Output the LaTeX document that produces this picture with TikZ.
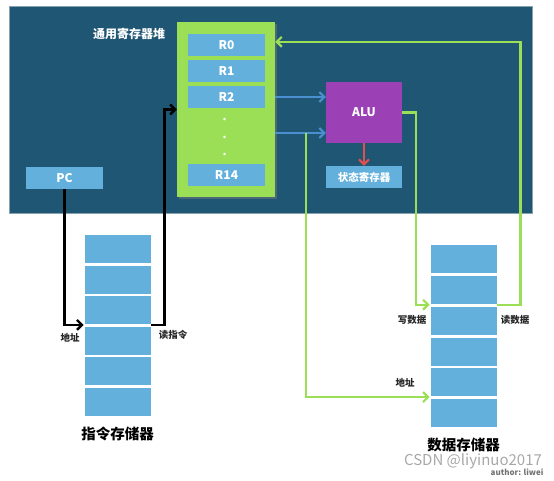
\documentclass[tikz,border=0pt]{standalone}
\usepackage{fontspec}
\setmainfont{Noto Sans CJK SC}
\usetikzlibrary{arrows.meta,positioning,shadows}

\definecolor{panelblue}{HTML}{1F5673}
\definecolor{cellblue}{HTML}{63B0DC}
\definecolor{rfgreen}{HTML}{9ADF55}
\definecolor{alupurple}{HTML}{9B40B5}
\definecolor{busblue}{HTML}{4A90D0}
\definecolor{flagred}{HTML}{E0504E}

\begin{document}
\begin{tikzpicture}[x=1pt,y=-1pt,
    tip/.style={-{Straight Barb[length=5pt,width=10pt]}},
    ctrlline/.style={tip, line width=2.4pt, black},
    dataline/.style={tip, line width=2.2pt, rfgreen},
    busline/.style={tip, line width=2pt, busblue},
    flagline/.style={tip, line width=2pt, flagred},
    lbl/.style={font=\bfseries\fontsize{9.5}{11}\selectfont, text=black!85, inner sep=0pt},
    memtitle/.style={font=\bfseries\fontsize{14.5}{17}\selectfont, inner sep=0pt}]

  \useasboundingbox (0,0) rectangle (554,481);
  \fill[panelblue, draw=panelblue!55!white, line width=.5pt] (9,6) rectangle (532,213);

  \node[fill=rfgreen, minimum width=98pt, minimum height=175pt,
        drop shadow={opacity=.45, shadow xshift=2pt, shadow yshift=-2pt}] (regfile) at (226,109.5) {};
  \node[text=white, font=\bfseries\fontsize{12}{14}\selectfont] (rftitle) at (129,34) {通用寄存器堆};

  \begin{scope}[every node/.style={fill=cellblue, text=white, inner sep=0pt,
      font=\bfseries\fontsize{12}{14}\selectfont, minimum width=77pt, minimum height=22pt}]
    \node (r0)  at (226.5,45)  {R0};
    \node (r1)  at (226.5,71)  {R1};
    \node (r2)  at (226.5,97)  {R2};
    \node (r14) at (226.5,175) {R14};
    \node (pc)  at (64.5,178)  {PC};
  \end{scope}
  \foreach \y in {119,137,154}
    \fill[white] (224.5,\y) circle (1.3pt);

  \node[fill=alupurple, text=white, font=\bfseries\fontsize{12}{14}\selectfont,
        minimum width=76pt, minimum height=61pt] (alu) at (364,112.5) {ALU};
  \node[fill=cellblue, text=white, font=\bfseries\fontsize{10.5}{12}\selectfont, inner sep=0pt,
        minimum width=76pt, minimum height=22pt] (status) at (364,177) {状态寄存器};

  \begin{scope}[every node/.style={fill=cellblue, draw=white, line width=.8pt,
      minimum width=67pt, minimum height=29pt, inner sep=0pt}]
    \foreach \i in {1,...,6} {
      \node (im\i) at (117.5,{249+30.5*(\i-1)}) {};
      \node (dm\i) at (463.5,{259+30.8*(\i-1)}) {};
    }
  \end{scope}
  \node[memtitle, below=10pt of im6] (imtitle) {指令存储器};
  \node[memtitle, below=10pt of dm6] (dmtitle) {数据存储器};

  \coordinate (opb) at (regfile.east |- 0,133);
  \coordinate (abr) at (306,133);

  \draw[ctrlline] (pc.south) |- (im3.south west);
  \draw[ctrlline] (im3.south east) -- ++(13,0) |- (regfile.west);
  \draw[busline] (r2 -| regfile.east) -- (r2 -| alu.west);
  \draw[busline] (opb) -- (opb -| alu.west);
  \draw[flagline] (alu.south) -- (status.north);
  \draw[dataline] (alu.east) -- ++(14,0) |- (dm2.south west);
  \draw[dataline] (dm2.south east) -- ++(23,0) |- ([yshift=-20pt]regfile.north east);
  \draw[dataline] (abr) |- (dm5.south west);

  \node[lbl] (imaddr) at (70,338)  {地址};
  \node[lbl] (imread) at (173,335) {读指令};
  \node[lbl] (dmwr)   at (412,320) {写数据};
  \node[lbl] (dmrd)   at (515,320) {读数据};
  \node[lbl] (dmaddr) at (405,383) {地址};

  \node[text=black!55, font=\bfseries\fontsize{8}{9}\selectfont, inner sep=0pt] (author) at (517,472) {author: liwei};
  \node[text=black!40, opacity=.85, font=\fontsize{15}{17}\selectfont, inner sep=0pt] (csdn) at (473,461) {CSDN @liyinuo2017};

\end{tikzpicture}
\end{document}
